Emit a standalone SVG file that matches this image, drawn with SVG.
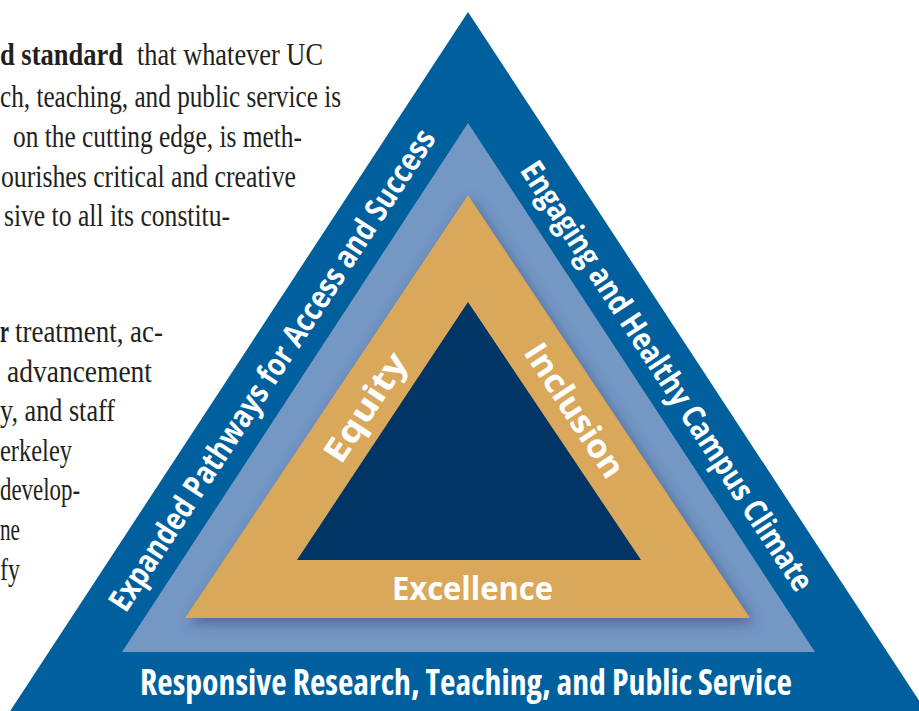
<svg xmlns="http://www.w3.org/2000/svg" width="919" height="711" viewBox="0 0 919 711">
  <style>
    .body { font-family: "Liberation Serif", "DejaVu Serif", serif; font-size: 31px; fill: #231f20; }
    .bold { font-weight: 700; }
    .label { font-family: "Open Sans", "Noto Sans", "Liberation Sans", sans-serif; font-weight: 700; fill: #ffffff; }
    .narrow { font-family: "Liberation Sans Narrow", "Open Sans", "Liberation Sans", sans-serif; font-stretch: condensed; font-weight: 700; fill: #ffffff; }
  </style>
  <defs>
    <filter id="softShadow" x="-20%" y="-20%" width="140%" height="140%">
      <feGaussianBlur stdDeviation="7"/>
    </filter>
  </defs>

  <rect width="919" height="711" fill="#ffffff"/>

  <!-- running paragraph text along the left edge -->
  <g id="paragraph-text">
    <text class="body bold" x="0" y="65" textLength="123" lengthAdjust="spacingAndGlyphs">d standard</text>
    <text class="body" x="137" y="65" textLength="186" lengthAdjust="spacingAndGlyphs">that whatever UC</text>
    <text class="body" x="0" y="107" textLength="341" lengthAdjust="spacingAndGlyphs">ch, teaching, and public service is</text>
    <text class="body" x="13" y="147" textLength="289" lengthAdjust="spacingAndGlyphs">on the cutting edge, is meth-</text>
    <text class="body" x="1" y="187" textLength="295" lengthAdjust="spacingAndGlyphs">ourishes critical and creative</text>
    <text class="body" x="4" y="226" textLength="226" lengthAdjust="spacingAndGlyphs">sive to all its constitu-</text>

    <text class="body bold" x="0" y="342" textLength="9" lengthAdjust="spacingAndGlyphs">r</text>
    <text class="body" x="15" y="342" textLength="148" lengthAdjust="spacingAndGlyphs">treatment, ac-</text>
    <text class="body" x="7" y="382" textLength="145" lengthAdjust="spacingAndGlyphs">advancement</text>
    <text class="body" x="0" y="421" textLength="115" lengthAdjust="spacingAndGlyphs">y, and staff</text>
    <text class="body" x="0" y="461" textLength="72" lengthAdjust="spacingAndGlyphs">erkeley</text>
    <text class="body" x="0" y="500" textLength="80" lengthAdjust="spacingAndGlyphs">develop-</text>
    <text class="body" x="0" y="540" textLength="20" lengthAdjust="spacingAndGlyphs">ne</text>
    <text class="body" x="0" y="580" textLength="20" lengthAdjust="spacingAndGlyphs">fy</text>
  </g>

  <!-- outer ring: three strategic goals -->
  <g id="outer-ring">
    <polygon points="468,12 1,725 935,725" fill="#00609e"/>
  </g>

  <g id="middle-ring">
    <polygon points="468,123 122,652 815,652" fill="#7597c4"/>
    <!-- soft shadow cast by the gold ring -->
    <polygon points="471,200 189,623 754,623" fill="#2b4670" opacity="0.6" filter="url(#softShadow)"/>
  </g>

  <g id="gold-ring">
    <polygon points="468,195 185,618 750,618" fill="#d9a85a"/>
  </g>

  <g id="core">
    <polygon points="468,302 297,560 641,560" fill="#003566"/>
  </g>

  <!-- goal labels -->
  <g id="goal-access">
    <text class="label" font-size="32" transform="translate(272,370) rotate(-56.8)" x="0" y="11" text-anchor="middle" textLength="568" lengthAdjust="spacingAndGlyphs">Expanded Pathways for Access and Success</text>
  </g>
  <g id="goal-climate">
    <text class="label" font-size="32" transform="translate(667,376) rotate(56.8)" x="0" y="11" text-anchor="middle" textLength="506" lengthAdjust="spacingAndGlyphs">Engaging and Healthy Campus Climate</text>
  </g>
  <g id="goal-research">
    <text class="narrow" font-size="35" x="140" y="695" textLength="652" lengthAdjust="spacingAndGlyphs">Responsive Research, Teaching, and Public Service</text>
  </g>

  <!-- core value labels -->
  <g id="value-equity">
    <text class="label" font-size="33" transform="translate(365,407) rotate(-56.8)" x="0" y="12" text-anchor="middle" textLength="124" lengthAdjust="spacingAndGlyphs">Equity</text>
  </g>
  <g id="value-inclusion">
    <text class="label" font-size="33" transform="translate(575,410) rotate(56.8)" x="0" y="12" text-anchor="middle" textLength="154" lengthAdjust="spacingAndGlyphs">Inclusion</text>
  </g>
  <g id="value-excellence">
    <text class="label" font-size="32" x="392" y="600" textLength="161" lengthAdjust="spacingAndGlyphs">Excellence</text>
  </g>
</svg>
